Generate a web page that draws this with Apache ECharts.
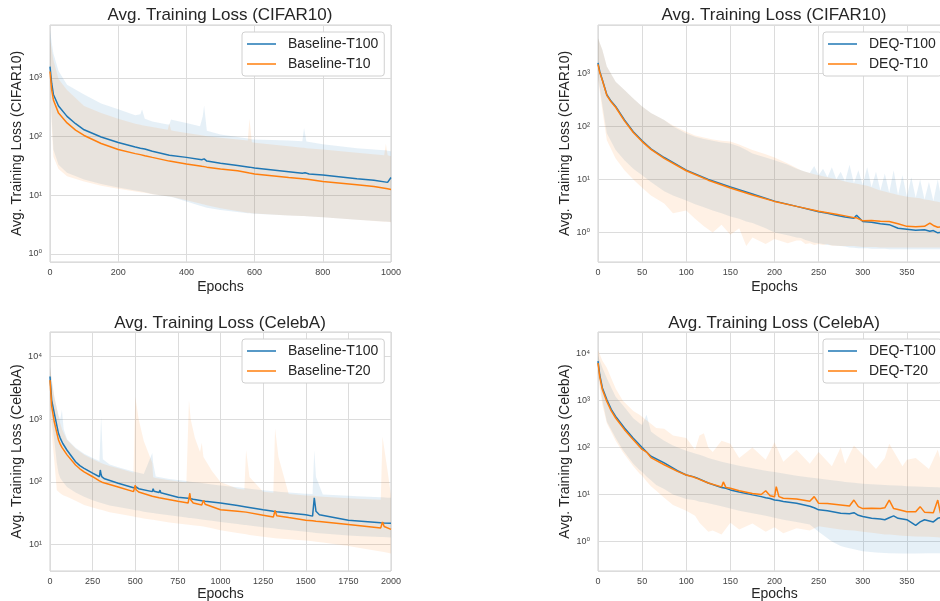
<!DOCTYPE html>
<html>
<head>
<meta charset="utf-8">
<script src="https://cdn.jsdelivr.net/npm/echarts@6/dist/echarts.min.js"></script>
<style>html,body{margin:0;background:#fff}#chart{width:940px;height:601px}</style>
</head>
<body>
<div id="chart"></div>
<script>
var myChart = echarts.init(document.getElementById("chart"));

// ---- CIFAR10 baseline (top left)
var cifBaseX = [0,5,10,25,50,75,100,150,200,250,265,270,278,300,350,400,445,452,460,500,550,585,590,600,700,740,748,760,800,900,950,990,1000];
var cifBaseT100 = [1550,800,520,330,220,165,130,98,79,66,63,64,61,56,48,44,40,41.5,38,35,32,30,30.5,29,25,23.5,24,23,22,19,18,16.5,20];
var cifBaseT10 = [1280,620,420,250,170,128,104,76,60,51,49,48.5,47,44,38,34,31,30.6,30,28,26,23.8,24.5,23,20,19,18.8,18.5,17,15,14,12.8,12.5];
var cifBaseBandX = [0,5,10,25,50,100,150,200,250,265,270,278,300,345,350,355,360,400,440,448,452,460,500,580,585,592,600,700,740,745,752,800,900,980,985,990,1000];
var cifBaseT100Hi = [6500,4000,2600,1300,760,520,365,290,230,240,288,200,180,160,160,195,190,170,150,220,336,125,108,92,91,90,89,85,83,140,82,74,63,58,58,57,56];
var cifBaseT10Hi = [4500,3000,2000,950,620,330,250,200,165,158,155,152,145,130,165,128,125,115,106,104,103,101,95,85,200,80,78,68,64,64,63,60,53,48,75,48,46];
var cifBaseT100Lo = [900,200,60,33,24,18.5,15.5,13.5,12,11.6,11.4,11.2,10.5,9.5,9.4,9.3,9.2,7.8,6.6,6.4,6.3,6.1,5.6,4.9,4.9,4.85,4.8,4.5,4.4,4.4,4.35,4.2,3.8,3.55,3.55,3.5,3.5];
var cifBaseT10Lo = [800,150,45,28,21,17,14.5,12.8,11.5,11.2,11.1,11,10.3,9.6,9.5,9.4,9.3,8.2,7.2,7,6.9,6.7,6.0,5.0,5.0,4.9,4.85,4.5,4.4,4.4,4.35,4.2,3.8,3.5,3.5,3.5,3.45];

// ---- CIFAR10 DEQ (top right)
var cifDeqX = [0,2,5,10,15,20,30,40,50,60,75,100,125,150,175,200,225,250,260,270,280,290,293,300,310,320,330,340,350,360,370,376,380,385,390,400];
var cifDeqT100 = [1600,1100,760,400,300,240,133,80,54,38,26,15,10,7.2,5.3,3.9,3.1,2.45,2.3,2.1,1.95,1.85,2.1,1.6,1.55,1.45,1.4,1.2,1.15,1.1,1.12,1.05,1.08,0.98,1.0,0.95];
var cifDeqT10 = [1500,1050,740,390,290,232,128,77,52,37,25,14.6,9.7,6.9,5.1,3.85,3.1,2.5,2.35,2.2,2.05,1.9,1.88,1.65,1.68,1.62,1.6,1.45,1.3,1.28,1.3,1.5,1.35,1.25,1.28,1.2];
var cifDeqBandX = [0,5,10,20,30,40,50,60,75,85,100,110,120,130,140,150,160,168,175,190,200,215,225,
	230,235,240,245,250,255,260,265,270,275,280,285,290,295,300,305,310,315,320,325,330,335,340,345,350,355,360,365,370,375,380,385,390,395,400];
var cifDeqT100Hi = [4650,2800,1360,700,490,340,240,180,133,100,74,64,58,54,50,48,42,36,31,26,23,19,16,
	15,14,13.2,18,12,16,11,17,10.1,14,9.2,19,8.5,15,7.9,17,7.1,14,6.2,13,5.6,15,5.1,12,4.7,11,4.5,10,4.2,9,3.9,10,3.6,7,3.4];
var cifDeqT10Hi = [4650,2800,1360,700,490,340,240,180,133,105,80,68,62,57,54,52,46,40,36,30,26,20,16.5,
	15,14,13.2,12.5,12,11.5,11,10.5,10.1,9.7,9.2,8.8,8.5,8.2,7.9,7.6,7.1,6.6,6.2,5.9,5.6,5.4,5.1,4.9,4.7,4.6,4.5,4.4,4.2,4.1,3.9,3.8,3.6,3.5,3.4];
var cifDeqT100Lo = [900,250,75,36,23,16,12,9,6,5,4,3.4,3,2.6,2.3,2.0,1.8,1.6,1.5,1.2,1.0,0.88,0.8,
	0.78,0.72,0.68,0.64,0.62,0.6,0.58,0.57,0.56,0.55,0.54,0.52,0.51,0.5,0.5,0.5,0.49,0.49,0.49,0.49,0.48,0.48,0.48,0.48,0.48,0.48,0.48,0.48,0.48,0.48,0.48,0.48,0.48,0.48,0.48];
var cifDeqT10Lo = [800,200,55,25,15,10,7,5,3.5,2.3,2.6,1.8,1.3,1.0,1.4,0.9,1.2,0.55,0.8,0.6,0.75,0.62,0.7,
	0.7,0.6,0.62,0.58,0.6,0.58,0.6,0.56,0.56,0.55,0.55,0.55,0.55,0.54,0.53,0.53,0.53,0.53,0.52,0.52,0.52,0.52,0.52,0.52,0.52,0.52,0.52,0.52,0.52,0.52,0.52,0.52,0.52,0.52,0.52];

// ---- CelebA baseline (bottom left)
var celBaseX = [0,10,25,50,60,65,70,75,100,150,175,180,185,200,250,290,295,300,305,320,400,490,500,505,520,600,605,610,640,645,650,750,810,820,825,840,890,900,910,1000,1100,1150,1155,1250,1310,1320,1330,1400,1405,1500,1540,1550,1560,1580,1750,1940,1950,1960,2000];
var celBaseT100 = [4800,2000,1250,590,500,470,480,410,320,210,182,190,178,165,138,121,155,130,120,112,95,81,80,83,78,70,78,71,68,74,67,57,55,54,54,53,50,50,49,46,42,40,41,36,34,34,33.5,32,32,30,28.5,56,34,30,24.5,22.3,22.2,22.1,22];
var celBaseT20 = [4200,1600,910,465,400,375,355,330,270,186,162,158,155,145,121,104,102,100,99,96,83,70,89,75,69,59,58.5,58,56,55.5,55,49,46,66,52,46,43,51,44,36,34,33,35,29.5,27.5,35,29,27,28.5,24.5,24,23.8,23.6,23.4,21,18.5,23,19.5,17.5];
var celBaseBandX = [0,10,25,40,50,60,70,80,100,150,200,250,290,300,310,350,400,490,500,520,550,600,605,620,700,800,815,825,850,880,890,900,950,1000,1100,1140,1150,1170,1250,1310,1320,1340,1400,1500,1540,1550,1560,1600,1750,1800,1940,1950,1980,2000];
var celBaseT100Hi = [6900,4000,2300,1500,1150,1000,1400,700,480,350,280,240,215,1100,230,190,172,146,144,140,134,290,200,122,111,103,102,101,99,97,96,95,91,88,82,80,79,78,74,71,71,70,68,65,64,320,120,63,60,59,57,57,56,56];
var celBaseT20Hi = [6500,4500,2300,1500,1100,850,700,600,465,340,270,230,205,200,195,180,165,140,2300,1000,450,200,119,116,106,98,2000,1000,500,300,420,250,150,100,78,76,320,120,70,67,710,250,64,61,60,60,59,58,55,54,52,530,150,60];
var celBaseT100Lo = [2000,900,465,200,137,115,105,97,83,68,58,51,47,46,45.5,42,40,36,35.5,35,33.5,32,32,31.5,29.5,27,26.7,26.5,26,25.5,25.2,25,24,23,21.3,20.6,20.5,20.2,19,18.2,18.1,17.8,17.2,16,15.6,15.5,15.4,15,14,13.7,13.2,13.2,13.1,13];
var celBaseT20Lo = [1500,600,220,74,70,66,63,61,58,50,43,39,36.5,36,35.5,33,31,28,27.5,27,26,25,25,24.5,22.5,21,20.8,20.6,20.2,19.8,19.6,19.5,18.2,17,15.4,14.8,14.6,14.3,13.4,12.8,12.7,12.5,12.2,11.7,11.3,11.2,11.1,10.8,9.5,9,7.8,7.7,7.4,7.2];

// ---- CelebA DEQ (bottom right)
var celDeqX = [0,2,5,10,15,20,30,40,50,52,55,60,75,90,100,108,110,112,125,140,142,145,150,160,175,185,190,195,200,202,205,210,225,240,245,250,260,275,285,290,295,300,310,320,325,330,335,340,350,360,365,370,380,385,388,395,400];
var celDeqT100 = [6900,3500,1850,1050,650,460,260,158,100,98,80,65,47,32,26,24,25,22.5,17.5,14,14,13.5,12.5,11.3,9.8,9,8.5,8.2,7.6,8.3,7.4,7.1,6.5,5.6,5.2,4.7,4.5,4.0,3.9,4.1,3.6,3.4,3.1,3.0,2.9,3.2,3.5,3.1,2.9,2.2,2.6,2.9,2.6,3.1,3.2,2.8,3.0];
var celDeqT20 = [6300,3200,1700,960,600,425,240,146,91,86,80,61,43,31,26,23.5,23,22,17.5,14.5,18.5,14,13.5,12,10.5,10,12,9.4,8.9,14.7,9,8.3,8,7.2,9,6.5,6.4,6,5.7,7.6,5.5,5,5.1,5,5.2,7.6,5,4.8,4.3,4.3,5.5,4.2,4.1,7.6,4.0,4.0,3.9];
var celDeqBandX = [0,5,10,20,28,40,47,50,55,60,66,75,85,100,110,115,120,125,130,140,150,160,175,190,200,210,225,240,250,265,275,280,290,300,315,325,330,345,350,360,375,385,390,400];
var celDeqT100Hi = [9000,5000,3000,1200,800,420,330,300,500,220,180,140,110,85,75,70,65,60,56,50,45,41,36,32,30,28,25,23,22,20,19,18.5,17.8,17,16.3,16,15.8,15.3,15,14.8,14.5,14.2,14,13.8];
var celDeqT20Hi = [12000,7000,5000,1800,1000,600,500,450,380,320,260,250,180,160,90,180,200,100,80,140,120,60,100,55,130,50,90,45,80,40,100,45,110,70,35,60,120,40,55,60,35,90,40,50];
var celDeqT100Lo = [4000,1000,360,160,90,45,33,30,24,20,16,13,10,8,7.5,7,6.8,6.5,6.2,5.6,5,4.5,4,3.5,3.2,2.9,2.6,2.3,1.6,1.0,0.8,0.75,0.68,0.62,0.58,0.57,0.56,0.55,0.55,0.55,0.56,0.56,0.56,0.56];
var celDeqT20Lo = [3000,800,330,140,80,40,28,25,19,15,12,8.5,6,4.5,3.5,2.5,2,1.6,1.7,1.4,2.5,1.8,2.4,1.6,2.0,1.5,1.9,1.7,2.1,1.9,1.8,1.75,1.7,1.6,1.5,1.4,1.4,1.32,1.3,1.28,1.25,1.22,1.2,1.2];

var BLUE = "#1f77b4";
var ORANGE = "#ff7f0e";
var BLUE_FILL = "rgba(31,119,180,0.11)";
var ORANGE_FILL = "rgba(255,127,14,0.11)";
var FONT = "'Liberation Sans', Arial, 'DejaVu Sans', sans-serif";
var TXT = "#262626";
var GRIDC = "#dcdcdc";
var SUP = ["\u2070", "\u00b9", "\u00b2", "\u00b3", "\u2074"];

function expLabel(v) {
	var e = Math.log(v) / Math.LN10;
	var r = Math.round(e);
	if (Math.abs(e - r) > 1e-4 || r < 0 || r > 4) return "";
	return "10" + SUP[r];
}

function pairs(xs, ys) {
	return xs.map(function (x, i) { return [x, ys[i]]; });
}

function lineSeries(name, xs, ys, color, idx) {
	return {
		type: "line",
		name: name,
		xAxisIndex: idx,
		yAxisIndex: idx,
		data: pairs(xs, ys),
		symbol: "none",
		showSymbol: false,
		lineStyle: { color: color, width: 1.5 },
		itemStyle: { color: color },
		z: 3,
		clip: true
	};
}

// shaded band between lo and hi, drawn as one polygon
function bandSeries(xs, lo, hi, fill, idx) {
	return {
		type: "custom",
		xAxisIndex: idx,
		yAxisIndex: idx,
		silent: true,
		clip: true,
		z: 1,
		data: xs.map(function (x, i) { return [x, lo[i], hi[i]]; }),
		encode: { x: 0, y: [1, 2] },
		renderItem: function (params, api) {
			if (params.dataIndex !== 0) return;
			var pts = [];
			for (var i = 0; i < xs.length; i++) pts.push(api.coord([xs[i], hi[i]]));
			for (var j = xs.length - 1; j >= 0; j--) pts.push(api.coord([xs[j], lo[j]]));
			return { type: "polygon", shape: { points: pts }, style: { fill: fill } };
		}
	};
}

var grids = [
	{ left: 50, top: 25, width: 341, height: 237 },
	{ left: 598, top: 25, width: 353, height: 237 },
	{ left: 50, top: 332, width: 341, height: 239 },
	{ left: 598, top: 332, width: 353, height: 239 }
];
grids.forEach(function (g) {
	g.show = true;
	g.borderColor = "#d0d0d0";
	g.borderWidth = 1;
	g.backgroundColor = "#fff";
	g.containLabel = false;
	g.outerBoundsMode = "none";
});

function xAxis(idx, max, interval, gap) {
	return {
		type: "value",
		gridIndex: idx,
		min: 0,
		max: max,
		interval: interval,
		name: "Epochs",
		nameLocation: "middle",
		nameGap: gap,
		nameTextStyle: { fontSize: 14, color: TXT, fontFamily: FONT },
		axisLine: { show: false },
		axisTick: { show: false },
		axisLabel: {
			fontSize: 9,
			color: "#444",
			margin: 6,
			fontFamily: FONT,
			formatter: function (v) { return String(v); }
		},
		splitLine: { lineStyle: { color: GRIDC, width: 1 } }
	};
}

function yAxis(idx, min, max, name) {
	return {
		type: "log",
		logBase: 10,
		gridIndex: idx,
		min: min,
		max: max,
		name: name,
		nameLocation: "middle",
		nameGap: 24,
		nameTextStyle: { fontSize: 14, color: TXT, fontFamily: FONT },
		axisLine: { show: false },
		axisTick: { show: false },
		minorTick: { show: false },
		axisLabel: {
			fontSize: 9,
			color: "#444",
			margin: 8,
			fontFamily: FONT,
			showMinLabel: false,
			showMaxLabel: false,
			formatter: expLabel
		},
		splitLine: { lineStyle: { color: GRIDC, width: 1 } }
	};
}

function title(text, x, y) {
	return {
		text: text,
		left: x,
		top: y,
		textAlign: "center",
		padding: 0,
		textStyle: { fontSize: 17, fontWeight: "normal", color: TXT, fontFamily: FONT }
	};
}

function legend(names, x, y) {
	return {
		orient: "vertical",
		left: x,
		top: y,
		data: names,
		icon: "rect",
		itemWidth: 29,
		itemHeight: 1.5,
		itemGap: 6,
		padding: [5, 6, 5, 5],
		backgroundColor: "#fff",
		borderColor: "#d0d0d0",
		borderWidth: 1,
		borderRadius: 3,
		selectedMode: false,
		textStyle: { fontSize: 14, color: TXT, fontFamily: FONT, padding: [0, 0, 0, 7] }
	};
}

var option = {
	animation: false,
	backgroundColor: "#fff",
	title: [
		title("Avg. Training Loss (CIFAR10)", 220, 7),
		title("Avg. Training Loss (CIFAR10)", 774, 7),
		title("Avg. Training Loss (CelebA)", 220, 315),
		title("Avg. Training Loss (CelebA)", 774, 315)
	],
	legend: [
		legend(["Baseline-T100", "Baseline-T10"], 242, 32),
		legend(["DEQ-T100", "DEQ-T10"], 823, 32),
		legend(["Baseline-T100", "Baseline-T20"], 242, 339),
		legend(["DEQ-T100", "DEQ-T20"], 823, 339)
	],
	grid: grids,
	xAxis: [xAxis(0, 1000, 200, 18), xAxis(1, 400, 50, 18), xAxis(2, 2000, 250, 14), xAxis(3, 400, 50, 14)],
	yAxis: [
		yAxis(0, Math.pow(10, -0.14), Math.pow(10, 3.9), "Avg. Training Loss (CIFAR10)"),
		yAxis(1, Math.pow(10, -0.56), Math.pow(10, 3.92), "Avg. Training Loss (CIFAR10)"),
		yAxis(2, Math.pow(10, 0.58), Math.pow(10, 4.39), "Avg. Training Loss (CelebA)"),
		yAxis(3, Math.pow(10, -0.63), Math.pow(10, 4.46), "Avg. Training Loss (CelebA)")
	],
	series: [
		bandSeries(cifBaseBandX, cifBaseT100Lo, cifBaseT100Hi, BLUE_FILL, 0),
		bandSeries(cifBaseBandX, cifBaseT10Lo, cifBaseT10Hi, ORANGE_FILL, 0),
		lineSeries("Baseline-T100", cifBaseX, cifBaseT100, BLUE, 0),
		lineSeries("Baseline-T10", cifBaseX, cifBaseT10, ORANGE, 0),

		bandSeries(cifDeqBandX, cifDeqT100Lo, cifDeqT100Hi, BLUE_FILL, 1),
		bandSeries(cifDeqBandX, cifDeqT10Lo, cifDeqT10Hi, ORANGE_FILL, 1),
		lineSeries("DEQ-T100", cifDeqX, cifDeqT100, BLUE, 1),
		lineSeries("DEQ-T10", cifDeqX, cifDeqT10, ORANGE, 1),

		bandSeries(celBaseBandX, celBaseT100Lo, celBaseT100Hi, BLUE_FILL, 2),
		bandSeries(celBaseBandX, celBaseT20Lo, celBaseT20Hi, ORANGE_FILL, 2),
		lineSeries("Baseline-T100", celBaseX, celBaseT100, BLUE, 2),
		lineSeries("Baseline-T20", celBaseX, celBaseT20, ORANGE, 2),

		bandSeries(celDeqBandX, celDeqT100Lo, celDeqT100Hi, BLUE_FILL, 3),
		bandSeries(celDeqBandX, celDeqT20Lo, celDeqT20Hi, ORANGE_FILL, 3),
		lineSeries("DEQ-T100", celDeqX, celDeqT100, BLUE, 3),
		lineSeries("DEQ-T20", celDeqX, celDeqT20, ORANGE, 3)
	]
};

myChart.setOption(option);
</script>
</body>
</html>
